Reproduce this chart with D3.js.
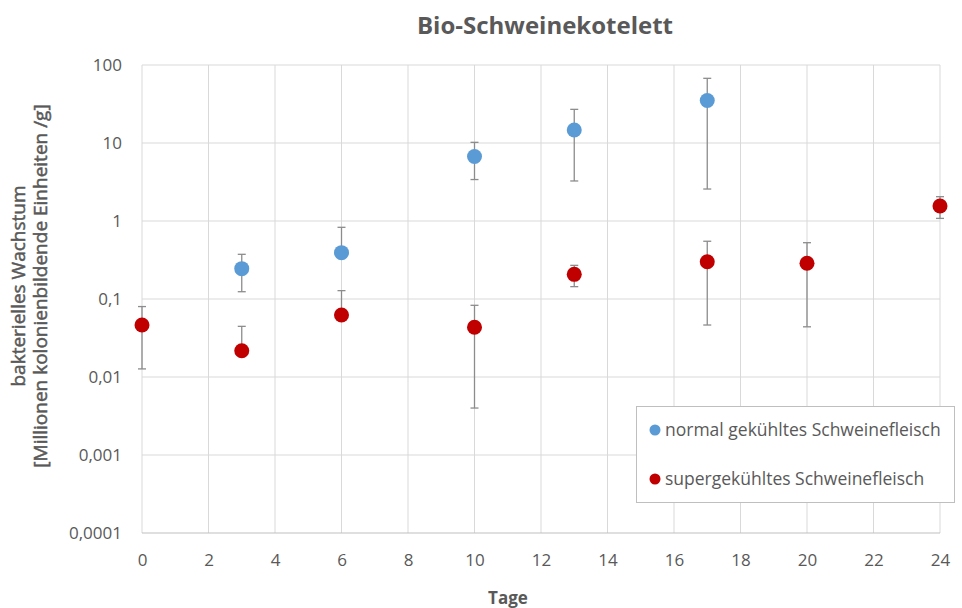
<!DOCTYPE html>
<html><head><meta charset="utf-8">
<script src="https://cdn.jsdelivr.net/npm/d3@7/dist/d3.min.js"></script>
<style>body{margin:0;background:#fff}svg{display:block}text{font-family:"Open Sans",sans-serif}</style>
</head><body><svg id="c" width="962" height="608"></svg>
<script>
const xTicks = [0,2,4,6,8,10,12,14,16,18,20,22,24];
const yTicks = [0.0001,0.001,0.01,0.1,1,10,100];
const yTickLabels = ["0,0001","0,001","0,01","0,1","1","10","100"];
const seriesNames = ["normal gekühltes Schweinefleisch","supergekühltes Schweinefleisch"];
const normalDays = [3,6,10,13,17];
const normalVals = [0.245,0.393,6.7,14.7,35];
const normalHi   = [0.374,0.83,10.2,27,67.5];
const normalLo   = [0.124,null,3.4,3.26,2.57];
const superDays = [0,3,6,10,13,17,20,24];
const superVals = [0.0464,0.0217,0.0624,0.0434,0.207,0.30,0.287,1.56];
const superHi   = [0.08,0.0446,0.128,0.083,0.27,0.55,0.527,2.05];
const superLo   = [0.0127,null,null,0.0040,0.144,0.0464,0.044,1.08];
const colors = ["#5B9BD5","#C00000"];

const svg = d3.select("#c");
const x = d3.scaleLinear().domain([0,24]).range([142,940]);
const y = d3.scaleLog().domain([0.0001,100]).range([533,65]);
const gray = "#595959";

// grid
svg.append("g").selectAll("line").data(xTicks).join("line")
  .attr("x1",d=>x(d)).attr("x2",d=>x(d)).attr("y1",y(100)).attr("y2",y(0.0001))
  .attr("stroke","#d9d9d9").attr("stroke-width",1);
svg.append("g").selectAll("line").data(yTicks).join("line")
  .attr("x1",x(0)).attr("x2",x(24)).attr("y1",d=>y(d)).attr("y2",d=>y(d))
  .attr("stroke",d=>d===0.0001?"#bfbfbf":"#d9d9d9").attr("stroke-width",1);

// axes labels
const xa = svg.append("g").attr("transform",`translate(0,${y(0.0001)})`)
  .call(d3.axisBottom(x).tickValues(xTicks).tickSize(0).tickPadding(21));
xa.select(".domain").remove();
xa.selectAll("text").attr("fill",gray).attr("font-size",17).attr("font-family","'Open Sans',sans-serif");
const ya = svg.append("g").attr("transform",`translate(${x(0)},0)`)
  .call(d3.axisLeft(y).tickValues(yTicks).tickFormat((d,i)=>yTickLabels[i]).tickSize(0).tickPadding(20));
ya.select(".domain").remove();
ya.selectAll("text").attr("fill",gray).attr("font-size",17).attr("font-family","'Open Sans',sans-serif");

// title
svg.append("text").attr("x",545).attr("y",34).attr("text-anchor","middle")
  .attr("font-size",24).attr("font-weight","bold").attr("fill",gray).text("Bio-Schweinekotelett");
svg.append("text").attr("x",508).attr("y",604).attr("text-anchor","middle")
  .attr("font-size",17).attr("font-weight","bold").attr("fill",gray).text("Tage");
const yl = svg.append("text").attr("transform","translate(0,286) rotate(-90)").attr("text-anchor","middle")
  .attr("font-size",19).attr("fill",gray).attr("stroke",gray).attr("stroke-width",0.5);
yl.append("tspan").attr("x",0).attr("y",25).text("bakterielles Wachstum");
yl.append("tspan").attr("x",0).attr("y",47).text("[Millionen kolonienbildende Einheiten /g]");

// series
function drawSeries(days,vals,hi,lo,color){
  const g = svg.append("g");
  const data = days.map((d,i)=>({d,v:vals[i],h:hi[i],l:lo[i]}));
  data.forEach(p=>{
    const cx = x(p.d);
    const top = y(p.h), bot = p.l==null? y(p.v) : y(p.l);
    g.append("line").attr("x1",cx).attr("x2",cx).attr("y1",top).attr("y2",bot).attr("stroke","#8c8c8c").attr("stroke-width",1.3);
    g.append("line").attr("x1",cx-4).attr("x2",cx+4).attr("y1",top).attr("y2",top).attr("stroke","#8c8c8c").attr("stroke-width",1.3);
    if(p.l!=null) g.append("line").attr("x1",cx-4).attr("x2",cx+4).attr("y1",bot).attr("y2",bot).attr("stroke","#8c8c8c").attr("stroke-width",1.3);
  });
  g.selectAll("circle").data(data).join("circle")
    .attr("cx",p=>x(p.d)).attr("cy",p=>y(p.v)).attr("r",7.5).attr("fill",color);
}
drawSeries(normalDays,normalVals,normalHi,normalLo,colors[0]);
drawSeries(superDays,superVals,superHi,superLo,colors[1]);

// legend
const lg = svg.append("g");
lg.append("rect").attr("x",636.5).attr("y",406.5).attr("width",318).attr("height",96)
  .attr("fill","#fff").attr("stroke","#bfbfbf").attr("stroke-width",1);
seriesNames.forEach((n,i)=>{
  const yy = 430 + i*49;
  lg.append("circle").attr("cx",655).attr("cy",yy).attr("r",5.5).attr("fill",colors[i]);
  lg.append("text").attr("x",665).attr("y",yy+6).attr("font-size",17.5).attr("fill",gray).text(n);
});
</script></body></html>
